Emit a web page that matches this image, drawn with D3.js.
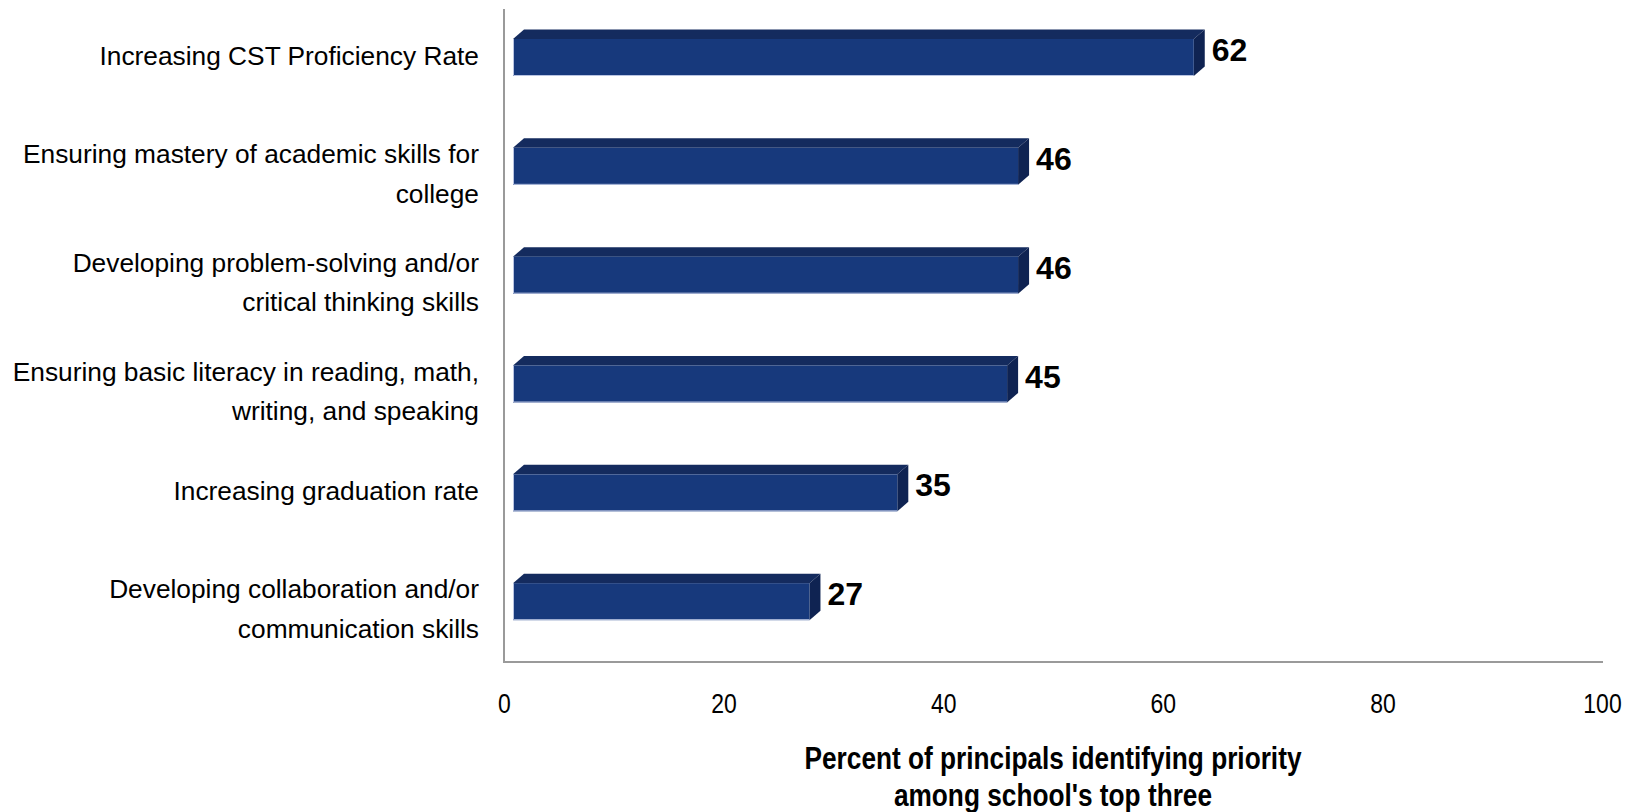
<!DOCTYPE html>
<html>
<head>
<meta charset="utf-8">
<script src="https://cdn.jsdelivr.net/npm/d3@7"></script>
<style>
  html, body { margin: 0; padding: 0; background: #ffffff; }
  svg { display: block; }
  text { font-family: "Liberation Sans", Arial, sans-serif; }
</style>
</head>
<body>
<svg id="chart" width="1636" height="812"></svg>
<script>
// ---- data ----
const categories = [
  "Increasing CST Proficiency Rate",
  "Ensuring mastery of academic skills for college",
  "Developing problem-solving and/or critical thinking skills",
  "Ensuring basic literacy in reading, math, writing, and speaking",
  "Increasing graduation rate",
  "Developing collaboration and/or communication skills"
];
const categoryLines = [
  ["Increasing CST Proficiency Rate"],
  ["Ensuring mastery of academic skills for", "college"],
  ["Developing problem-solving and/or", "critical thinking skills"],
  ["Ensuring basic literacy in reading, math,", "writing, and speaking"],
  ["Increasing graduation rate"],
  ["Developing collaboration and/or", "communication skills"]
];
const values = [62, 46, 46, 45, 35, 27];
const xTicks = [0, 20, 40, 60, 80, 100];
const axisTitleLines = ["Percent of principals identifying priority", "among school's top three"];

// ---- layout ----
const svg = d3.select("#chart");
const plotLeft = 504, plotRight = 1602, plotTop = 9, plotBottom = 662;
const x = d3.scaleLinear().domain([0, 100]).range([plotLeft, plotRight]);
const y = d3.scaleBand().domain(categories).range([plotTop, plotBottom]).paddingInner(0).paddingOuter(0);

const frontOffset = 9;   // front face shifted right of the wall
const depthX = 11, depthY = 9.5;
const frontTop = 30, frontH = 37;

const colFront = "#17397c", colTop = "#142b5e", colSide = "#0f2352";

// axes lines (walls)
svg.append("line")
  .attr("x1", plotLeft).attr("x2", plotLeft)
  .attr("y1", plotTop).attr("y2", plotBottom + 1)
  .attr("stroke", "#9a9a9a").attr("stroke-width", 2);
svg.append("line")
  .attr("x1", plotLeft - 1).attr("x2", plotRight + 1)
  .attr("y1", plotBottom).attr("y2", plotBottom)
  .attr("stroke", "#9a9a9a").attr("stroke-width", 2);

// bars
const bars = svg.append("g").selectAll("g.bar")
  .data(values.map((v, i) => ({v, c: categories[i], i})))
  .join("g").attr("class", "bar");

bars.each(function(d) {
  const g = d3.select(this);
  const bs = y(d.c);
  const fx = x(0) + frontOffset;
  const w = x(d.v) - x(0);
  const ft = bs + frontTop;
  const fb = ft + frontH;
  // top face
  g.append("polygon")
    .attr("points", [[fx, ft], [fx + depthX, ft - depthY], [fx + w + depthX, ft - depthY], [fx + w, ft]].map(p => p.join(",")).join(" "))
    .attr("fill", colTop);
  // side face
  g.append("polygon")
    .attr("points", [[fx + w, ft], [fx + w + depthX, ft - depthY], [fx + w + depthX, fb - depthY], [fx + w, fb]].map(p => p.join(",")).join(" "))
    .attr("fill", colSide);
  // front face
  g.append("rect")
    .attr("x", fx).attr("y", ft).attr("width", w).attr("height", frontH)
    .attr("fill", colFront);
  // light edges
  g.append("path")
    .attr("d", `M${fx + 0.5},${ft} L${fx + 0.5},${fb - 0.5} L${fx + w},${fb - 0.5}`)
    .attr("fill", "none").attr("stroke", "#b9c4e2").attr("stroke-width", 1);
  // value label
  g.append("text")
    .attr("x", fx + w + depthX + 7)
    .attr("y", bs + 52)
    .attr("font-size", 32).attr("font-weight", "bold").attr("fill", "#000")
    .text(d.v);
});

// category labels
const catG = svg.append("g");
categories.forEach((c, i) => {
  const lines = categoryLines[i];
  const n = lines.length;
  const bs = y(c);
  const t = catG.append("text")
    .attr("text-anchor", "end")
    .attr("font-size", 26.3).attr("fill", "#000");
  lines.forEach((ln, j) => {
    const base = bs + 56 + (j - (n - 1) / 2) * 39.5 + (n > 1 ? 9 : 0);
    t.append("tspan").attr("x", 479).attr("y", base).text(ln);
  });
});

// x axis tick labels
const xAxis = d3.axisBottom(x).tickValues(xTicks).tickSize(0).tickFormat(d3.format("d"));
const axG = svg.append("g").attr("transform", `translate(0,${plotBottom})`).call(xAxis);
axG.select(".domain").remove();
axG.selectAll(".tick text")
  .attr("y", 51).attr("dy", 0)
  .attr("font-size", 28).attr("fill", "#000")
  .attr("font-family", "'Liberation Sans', Arial, sans-serif")
  .attr("transform", "scale(0.82,1)");

// axis title
const titleX = x(50);
axisTitleLines.forEach((ln, j) => {
  svg.append("g").attr("transform", `translate(${titleX},${769 + j * 36.5})`)
    .append("text")
    .attr("text-anchor", "middle")
    .attr("font-size", 32).attr("font-weight", "bold").attr("fill", "#000")
    .attr("transform", "scale(0.82,1)")
    .text(ln);
});
</script>
</body>
</html>
